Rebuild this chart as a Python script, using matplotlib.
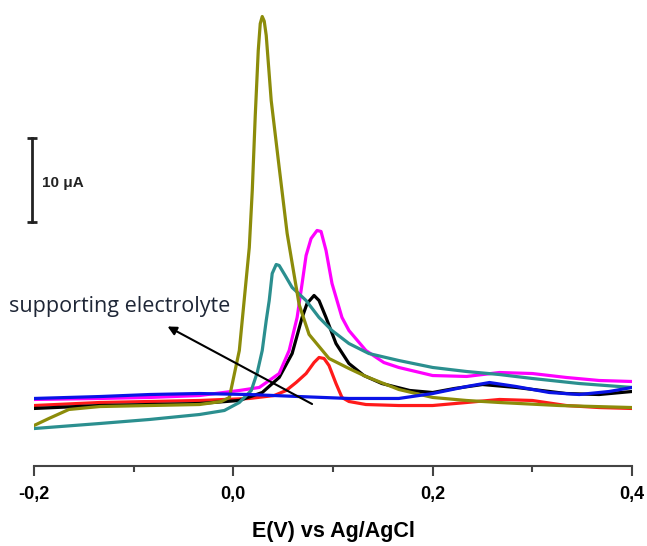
import matplotlib
matplotlib.use("Agg")
import matplotlib.pyplot as plt

# potentials (V) and currents (uA)
olive_x = [-0.200, -0.185, -0.165, -0.134, -0.084, -0.034, -0.012, -0.004, -0.001, 0.006,
           0.016, 0.019, 0.022, 0.025, 0.027, 0.029, 0.031, 0.033, 0.038, 0.046, 0.054,
           0.066, 0.076, 0.096, 0.116, 0.133, 0.166, 0.200, 0.234, 0.267, 0.327, 0.400]
olive_y = [4.76, 5.60, 6.67, 7.02, 7.14, 7.26, 7.62, 8.10, 9.76, 13.69,
           25.95, 32.74, 41.67, 49.40, 52.60, 53.45, 52.90, 51.20, 43.45, 35.48, 27.62,
           19.17, 15.60, 12.74, 11.55, 10.60, 9.05, 8.10, 7.74, 7.50, 7.14, 6.90]

teal_x = [-0.200, -0.134, -0.084, -0.034, -0.009, 0.006, 0.018, 0.024, 0.029, 0.033,
          0.036, 0.039, 0.043, 0.046, 0.052, 0.059, 0.073, 0.086, 0.099, 0.116,
          0.136, 0.166, 0.200, 0.234, 0.267, 0.300, 0.347, 0.400]
teal_y = [4.40, 5.00, 5.48, 6.07, 6.55, 7.50, 8.93, 11.07, 13.69, 17.26,
          19.64, 22.86, 23.93, 23.81, 22.62, 21.19, 19.64, 17.62, 16.07, 14.52,
          13.33, 12.50, 11.67, 11.19, 10.83, 10.36, 9.76, 9.29]

pink_x = [-0.200, -0.134, -0.084, -0.034, 0.006, 0.026, 0.046, 0.056, 0.064, 0.069,
          0.073, 0.078, 0.084, 0.088, 0.093, 0.099, 0.109, 0.116, 0.133, 0.151,
          0.166, 0.200, 0.234, 0.267, 0.300, 0.334, 0.367, 0.400]
pink_y = [7.86, 7.98, 8.10, 8.33, 8.93, 9.29, 10.95, 13.69, 17.62, 21.67,
          25.00, 27.02, 27.98, 27.86, 25.60, 21.67, 17.62, 16.07, 13.69, 12.26,
          11.67, 10.71, 10.60, 11.07, 10.95, 10.48, 10.12, 10.00]

black_x = [-0.200, -0.134, -0.084, -0.034, 0.006, 0.029, 0.046, 0.059, 0.069, 0.074,
           0.081, 0.086, 0.093, 0.103, 0.116, 0.131, 0.149, 0.177, 0.200, 0.222,
           0.250, 0.284, 0.334, 0.367, 0.400]
black_y = [6.79, 7.14, 7.26, 7.38, 7.74, 8.69, 10.48, 13.33, 17.62, 19.29,
           20.24, 19.64, 17.62, 14.52, 12.14, 10.71, 9.76, 8.93, 8.69, 9.17,
           9.64, 9.29, 8.57, 8.45, 8.81]

red_x = [-0.200, -0.134, -0.084, -0.034, 0.016, 0.041, 0.053, 0.063, 0.073, 0.081,
         0.086, 0.091, 0.096, 0.103, 0.109, 0.116, 0.133, 0.166, 0.200, 0.234,
         0.267, 0.300, 0.334, 0.367, 0.400]
red_y = [7.14, 7.50, 7.62, 7.74, 7.98, 8.33, 8.93, 9.88, 10.95, 12.26,
         12.86, 12.74, 11.90, 9.76, 8.10, 7.62, 7.26, 7.14, 7.14, 7.50,
         7.86, 7.74, 7.14, 6.90, 6.79]

blue_x = [-0.200, -0.134, -0.084, -0.034, 0.016, 0.066, 0.116, 0.166, 0.200, 0.234,
          0.257, 0.284, 0.317, 0.347, 0.377, 0.400]
blue_y = [7.98, 8.21, 8.45, 8.57, 8.45, 8.21, 7.98, 7.98, 8.57, 9.40,
          9.88, 9.40, 8.69, 8.45, 8.81, 9.29]

xticks = [-0.2, 0.0, 0.2, 0.4]
xtick_labels = ["-0,2", "0,0", "0,2", "0,4"]
minor_ticks = [-0.1, 0.1, 0.3]

fig = plt.figure(figsize=(6.47, 5.46), dpi=100)
ax = fig.add_axes([34 / 647, (546 - 465.5) / 546, 598 / 647, 465.5 / 546])

lw = 2.3
ax.plot(red_x, red_y, color="#ff1a1a", lw=lw)
ax.plot(black_x, black_y, color="black", lw=lw)
ax.plot(pink_x, pink_y, color="#ff00ff", lw=lw)
ax.plot(teal_x, teal_y, color="#2b8f8f", lw=lw)
ax.plot(olive_x, olive_y, color="#8c8c0a", lw=lw)
ax.plot(blue_x, blue_y, color="#0a14e6", lw=lw)

ax.set_xlim(-0.2, 0.4)
ax.set_ylim(0, 465.5 / 8.4)

for s in ["left", "top", "right"]:
    ax.spines[s].set_visible(False)
ax.spines["bottom"].set_color("#444444")
ax.spines["bottom"].set_linewidth(1.5)
ax.set_yticks([])
ax.set_xticks(xticks)
ax.set_xticklabels(xtick_labels, fontfamily="Liberation Sans", fontweight="bold", fontsize=13)
ax.set_xticks(minor_ticks, minor=True)
ax.tick_params(axis="x", which="major", length=7, width=1.5, color="#444444", pad=8)
ax.tick_params(axis="x", which="minor", length=4.5, width=1.5, color="#444444")
ax.set_xlabel("E(V) vs Ag/AgCl", fontfamily="Liberation Sans", fontweight="bold",
              fontsize=15.5, labelpad=13)

# 10 uA scale bar
bar_x = -0.2016
ax.plot([bar_x, bar_x], [28.93, 38.93], color="#222222", lw=2, clip_on=False,
        marker="_", markersize=7, markeredgewidth=2)
ax.text(-0.1916, 33.6, "10 μA", fontfamily="Liberation Sans", fontweight="bold",
        fontsize=11, va="center", ha="left", color="#222222")

# arrow + label
ax.annotate("", xy=(-0.066, 16.55), xytext=(0.079, 7.32),
            arrowprops=dict(arrowstyle="-|>", color="black", lw=1.5,
                            mutation_scale=13, shrinkA=0, shrinkB=0))
ax.text(-0.2247, 18.9, "supporting electrolyte", fontfamily="Open Sans",
        fontsize=15.5, va="center", ha="left", color="#1e2636")

fig.savefig("out.png", dpi=100)
